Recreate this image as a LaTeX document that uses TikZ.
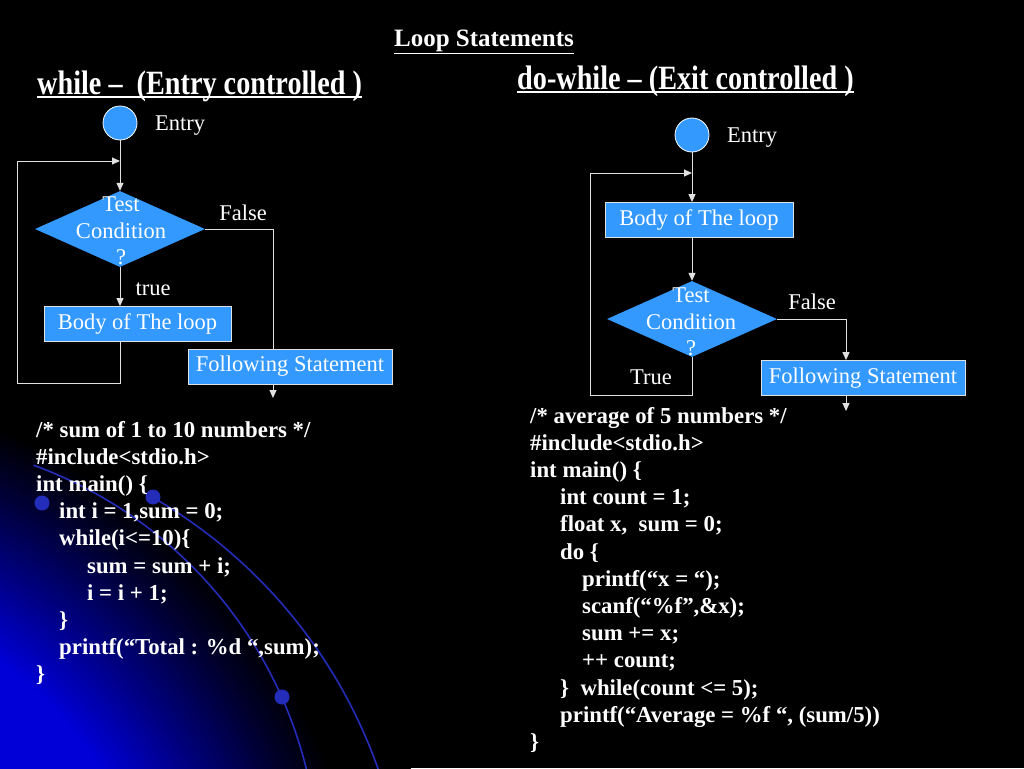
\documentclass[tikz,border=0pt]{standalone}
\usepackage{fontspec}
\setmainfont{Liberation Serif}
\newfontfamily\headfont[FakeStretch=0.83]{Liberation Serif}
\usetikzlibrary{shapes.geometric,arrows.meta}

\definecolor{slideblue}{RGB}{51,153,255}
\definecolor{deepblue}{RGB}{0,0,215}
\definecolor{midblue}{RGB}{0,0,120}
\definecolor{darkblue}{RGB}{0,0,45}
\definecolor{arcblue}{RGB}{35,45,185}
\definecolor{wiregray}{RGB}{225,225,225}

% glow in the lower left corner (25bp = radius of the shaded circle)
\pgfdeclareradialshading{slideglow}{\pgfpoint{0bp}{0bp}}{%
  color(0bp)=(deepblue); color(15bp)=(deepblue); color(18bp)=(midblue);
  color(20.5bp)=(darkblue); color(22.3bp)=(black); color(50bp)=(black)}

\tikzset{
  chartbox/.style={draw=wiregray,line width=0.8pt,fill=slideblue,text=white,
    inner sep=0pt,minimum height=35pt,font=\fontsize{22.5}{24}\selectfont},
  entrydot/.style={circle,draw=white,line width=0.8pt,fill=slideblue,
    minimum size=34pt,inner sep=0pt},
  testdia/.style={diamond,fill=slideblue,minimum width=170pt,
    minimum height=76pt,inner sep=0pt},
  dialbl/.style={text=white,align=center,inner sep=0pt,
    font=\fontsize{22.5}{26.5}\selectfont},
  lbl/.style={text=white,inner sep=0pt,font=\fontsize{22.5}{24}\selectfont},
  flow/.style={draw=wiregray,line width=1pt,-{Triangle[width=7pt,length=8pt]}},
  wire/.style={draw=wiregray,line width=1pt},
  codeline/.style={text=white,anchor=base west,inner sep=0pt,
    font=\fontsize{22.8}{27}\selectfont\bfseries},
  headline/.style={text=white,inner sep=0pt,anchor=base west,
    font=\fontsize{34}{36}\selectfont\headfont\bfseries},
  underrule/.style={draw=white,line width=1.6pt},
}

\begin{document}
\begin{tikzpicture}[x=1pt,y=-1pt]

    % slide background
    \useasboundingbox (0,0) rectangle (1024,768);
    \fill[black] (0,0) rectangle (1024,768);
    \begin{scope}
        \clip (0,0) rectangle (1024,768);
        \shade[shading=slideglow] (-250,1000) circle (700);
        \draw[arcblue,line width=1.6pt] (-115,873) ++(-70:434)
            arc[start angle=-70,end angle=-5,radius=434];
        \draw[arcblue,line width=1.6pt] (-102,938) ++(-61:509)
            arc[start angle=-61,end angle=-5,radius=509];
        \foreach \p in {(42,503),(153,497),(282,697)}
            \fill[arcblue] \p circle (7.5);
    \end{scope}

    % headings
    \node[text=white,inner sep=0pt,font=\fontsize{25}{27}\selectfont\bfseries]
        (title) at (484,42) {\underline{Loop Statements}};
    \node[headline] (whilehd) at (37,94) {while –\ \ (Entry controlled )};
    \node[headline] (dowhilehd) at (517,89) {do-while – (Exit controlled )};
    \draw[underrule] ([yshift=-3pt]whilehd.base west) -- ([yshift=-3pt]whilehd.base east);
    \draw[underrule] ([yshift=-3pt]dowhilehd.base west) -- ([yshift=-3pt]dowhilehd.base east);

    % while loop chart
    \node[entrydot] (ldot) at (120,123) {};
    \node[lbl] (lentry) at (180,126) {Entry};
    \node[testdia] (lcond) at (120,229) {};
    \node[dialbl] (lcondtxt) at (121,231) {Test\\Condition\\?};
    \node[lbl] (lfalse) at (243,213) {False};
    \node[lbl] (ltrue) at (153,289) {true};
    \node[chartbox,minimum width=187pt] (lbody) at (137.5,324) {Body of The loop};
    \node[chartbox,minimum width=204pt] (lnext) at (290,366.5) {Following Statement};

    \coordinate (ljoin) at (120,161);
    \coordinate (lloop) at (17,383);
    \coordinate (lside) at (273,229);
    \coordinate (lout) at (273,398);

    \draw[flow] (ldot) -- (lcond.north);
    \draw[flow] (lcond.south) -- (lcond.south |- lbody.north);
    \draw[flow] (ljoin |- lbody.south) |- (lloop) |- (ljoin);
    \draw[wire] (lcond.east) -- (lside) -- (lside |- lnext.north);
    \draw[flow] (lout |- lnext.south) -- (lout);

    % do-while loop chart
    \node[entrydot] (rdot) at (692,135) {};
    \node[lbl] (rentry) at (752,138) {Entry};
    \node[chartbox,minimum width=188pt] (rbody) at (699,220) {Body of The loop};
    \node[testdia] (rcond) at (692,319) {};
    \node[dialbl] (rcondtxt) at (691,322) {Test\\Condition\\?};
    \node[lbl] (rfalse) at (812,302) {False};
    \node[lbl] (rtrue) at (651,377) {True};
    \node[chartbox,minimum width=204pt] (rnext) at (863,378) {Following Statement};

    \coordinate (rjoin) at (692,173);
    \coordinate (rloop) at (590,395);
    \coordinate (rside) at (846,319);
    \coordinate (rout) at (846,411);

    \draw[flow] (rdot) -- (rjoin |- rbody.north);
    \draw[flow] (rjoin |- rbody.south) -- (rcond.north);
    \draw[flow] (rcond.south) |- (rloop) |- (rjoin);
    \draw[flow] (rcond.east) -- (rside) -- (rside |- rnext.north);
    \draw[flow] (rout |- rnext.south) -- (rout);

    % while program
    \foreach \ind/\txt [count=\i] in {
        36/{/* sum of 1 to 10 numbers */},
        36/{\#include<stdio.h>},
        36/{int main() \{},
        59/{int i = 1,sum = 0;},
        59/{while(i<=10)\{},
        87/{sum = sum + i;},
        87/{i = i + 1;},
        59/{\}},
        59/{printf(“Total : \%d “,sum);},
        36/{\}}}
        \node[codeline] (lcode\i) at (\ind,{437+27.2*(\i-1)}) {\txt};

    % do-while program
    \foreach \ind/\txt [count=\i] in {
        530/{/* average of 5 numbers */},
        530/{\#include<stdio.h>},
        530/{int main() \{},
        560/{int count = 1;},
        560/{float x,\ \ sum = 0;},
        560/{do \{},
        582/{printf(“x = “);},
        582/{scanf(“\%f”,\&x);},
        582/{sum += x;},
        582/{++ count;},
        560/{\}\ \ while(count <= 5);},
        560/{printf(“Average = \%f “, (sum/5))},
        530/{\}}}
        \node[codeline] (rcode\i) at (\ind,{423+27.2*(\i-1)}) {\txt};

\end{tikzpicture}
\end{document}
